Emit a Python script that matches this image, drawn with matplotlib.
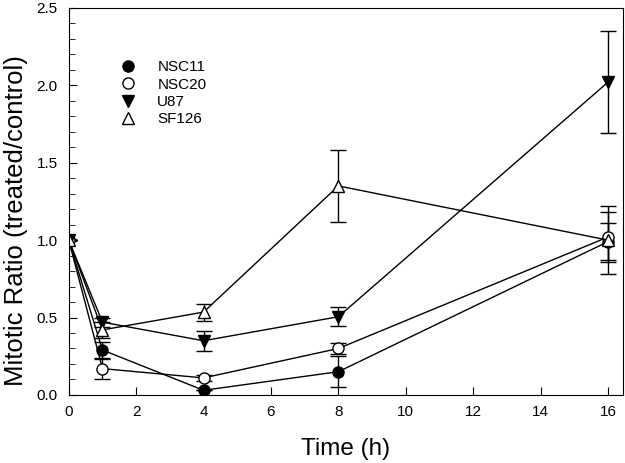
import matplotlib
matplotlib.use("Agg")
import matplotlib.pyplot as plt
from matplotlib.ticker import MultipleLocator
from matplotlib.lines import Line2D

plt.rcParams['font.family'] = ['Liberation Sans', 'DejaVu Sans']

time_h = [0, 1, 4, 8, 16]

nsc11 = [1.0, 0.29, 0.03, 0.15, 0.99]
nsc11_err = [0.0, 0.055, 0.0, 0.10, 0.12]

nsc20 = [1.0, 0.17, 0.11, 0.30, 1.02]
nsc20_err = [0.0, 0.07, 0.02, 0.035, 0.16]

u87 = [1.0, 0.47, 0.35, 0.505, 2.02]
u87_err = [0.0, 0.03, 0.065, 0.06, 0.33]

sf126 = [1.0, 0.42, 0.535, 1.35, 1.0]
sf126_err = [0.0, 0.05, 0.055, 0.23, 0.22]

series_names = ["NSC11", "NSC20", "U87", "SF126"]

fig = plt.figure(figsize=(6.25, 4.63), dpi=100)
ax = fig.add_axes([0.110, 0.147, 0.887, 0.836])

styles = [
    (nsc11, nsc11_err, dict(marker='o', mfc='black', mec='black')),
    (nsc20, nsc20_err, dict(marker='o', mfc='white', mec='black')),
    (u87, u87_err, dict(marker='v', mfc='black', mec='black')),
    (sf126, sf126_err, dict(marker='^', mfc='white', mec='black')),
]

for (vals, errs, st), name in zip(styles, series_names):
    ax.errorbar(time_h, vals, yerr=errs, color='black', lw=1.0,
                elinewidth=1.0, capsize=6, capthick=1.0, ms=8,
                mew=1.0, label=name, **st)

ax.set_xlim(0, 16.45)
ax.set_ylim(0, 2.5)
ax.xaxis.set_major_locator(MultipleLocator(2))
ax.yaxis.set_major_locator(MultipleLocator(0.5))
ax.yaxis.set_minor_locator(MultipleLocator(0.1))
ax.yaxis.set_major_formatter(matplotlib.ticker.FormatStrFormatter('%.1f'))
ax.tick_params(axis='both', which='major', direction='in', length=6,
               labelsize=11, top=False, right=False)
ax.tick_params(axis='y', which='minor', direction='in', length=4,
               right=False)
ax.tick_params(axis='x', pad=7)
ax.tick_params(axis='y', pad=8)

ax.set_xlabel("Time (h)", fontsize=17.5, labelpad=14)
ax.set_ylabel("Mitotic Ratio (treated/control)", fontsize=18.5)
ax.yaxis.set_label_coords(-0.073, 0.45)

leg_handles = [Line2D([], [], ls='none', color='black', ms=8, **st)
               for (_, _, st) in styles]
ax.legend(leg_handles, series_names, loc='upper left',
          bbox_to_anchor=(0.055, 0.90), frameon=False, fontsize=11,
          handletextpad=0.9, labelspacing=0.22)

fig.savefig("out.png", dpi=100)
